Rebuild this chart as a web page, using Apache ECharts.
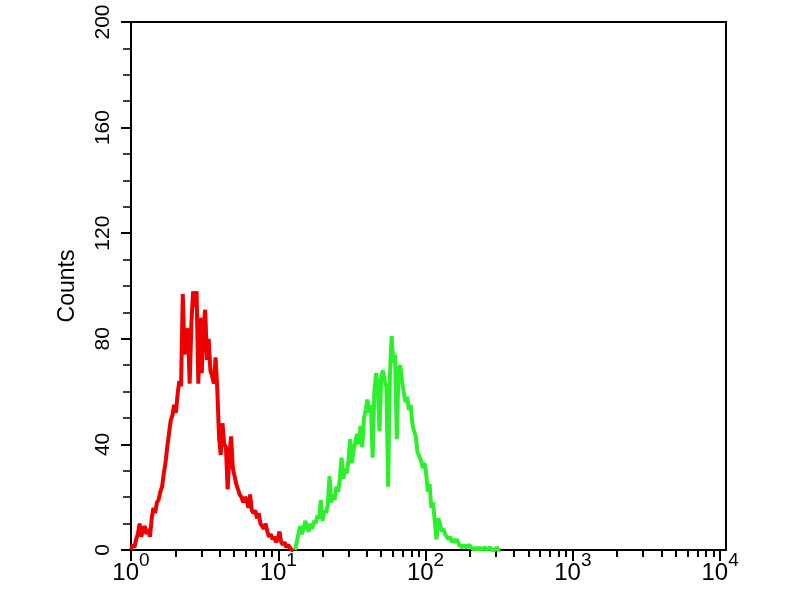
<!DOCTYPE html>
<html>
<head>
<meta charset="utf-8">
<script src="https://cdn.jsdelivr.net/npm/echarts@6/dist/echarts.min.js"></script>
<style>
  html, body { margin: 0; padding: 0; background: #fff; }
  #main { width: 800px; height: 600px; }
</style>
</head>
<body>
<div id="main"></div>
<script>
// 1024 channels over 4 decades, counts every 3rd channel
var channelsPerDecade = 256;
var binStep = 3;

var redFirstChannel = 0;
var redCounts = [0, 2, 1, 4, 6, 10, 5, 8, 9, 6, 8, 5, 12, 16, 14, 18, 19, 22, 24, 29,
    33, 39, 44, 49, 51, 55, 52, 59, 64, 62, 97, 74, 80, 84, 63, 86, 98, 92, 98, 63,
    88, 67, 85, 91, 72, 80, 68, 66, 63, 73, 61, 43, 36, 48, 40, 39, 23, 36, 43, 31,
    28, 25, 23, 21, 20, 18, 20, 19, 16, 21, 15, 14, 15, 12, 14, 10, 9, 8, 10, 7,
    5, 6, 4, 5, 3, 4, 7, 3, 2, 3, 1, 2, 1, 0, 0];

var greenFirstChannel = 285;
var greenCounts = [0, 3, 6, 9, 6, 8, 11, 9, 7, 10, 8, 11, 10, 13, 12, 19, 11, 15, 14, 17,
    28, 18, 21, 19, 24, 22, 27, 35, 27, 31, 29, 34, 42, 33, 38, 41, 44, 40, 47, 39,
    50, 53, 57, 52, 55, 35, 60, 67, 62, 45, 66, 68, 64, 62, 24, 66, 81, 71, 74, 42,
    68, 70, 64, 60, 56, 58, 53, 55, 48, 45, 43, 37, 37, 34, 31, 33, 29, 22, 25, 16,
    18, 11, 4, 12, 10, 7, 8, 6, 6, 4, 5, 3, 4, 3, 4, 2, 2, 1, 2, 1,
    1, 2, 1, 1, 0, 1, 0, 1, 0, 0, 1, 0, 0, 1, 0, 0, 0, 1, 0, 0];

var xDecades = [0, 1, 2, 3, 4];          // 10^0 .. 10^4
var yTicks = [0, 40, 80, 120, 160, 200];

//把计数转成 [log10(x), y]
function histData(first, counts){
    var arr = [];
    counts.forEach(function(c, i){
        arr.push([(first + i * binStep) / channelsPerDecade, c]);
    });
    return arr;
}

// log minor ticks 2..9 in each decade
var minorTicks = [];
for(var d = 0; d < 4; d++){
    for(var m = 2; m <= 9; m++){
        minorTicks.push(d + Math.log10(m));
    }
}

var font = 'Liberation Sans, Arial, sans-serif';
var myChart = echarts.init(document.getElementById('main'));
var option = {
    backgroundColor: '#fff',
    animation: false,
    grid: {
        left: 131, right: 74, top: 22, bottom: 50,
        show: true, borderColor: '#000', borderWidth: 2, backgroundColor: '#fff'
    },
    xAxis: [{
        type: 'value',
        min: 0,
        max: 4.04,
        splitLine: {show: false},
        axisLine: {show: true, onZero: false, lineStyle: {color: '#000', width: 2}},
        axisTick: {show: true, customValues: xDecades, length: 11, lineStyle: {color: '#000', width: 2}},
        axisLabel: {
            customValues: xDecades,
            margin: 9,
            formatter: function(v){
                return '{b|10}{s|' + Math.round(v) + '}';
            },
            rich: {
                b: {fontSize: 24, fontFamily: font, color: '#000', verticalAlign: 'bottom', lineHeight: 26},
                s: {fontSize: 19, fontFamily: font, color: '#000', verticalAlign: 'bottom', lineHeight: 19, padding: [0, 0, 15, 0]}
            }
        }
    }, {
        type: 'value',
        position: 'bottom',
        min: 0,
        max: 4.04,
        splitLine: {show: false},
        axisLine: {show: false},
        axisTick: {show: true, customValues: minorTicks, length: 7, lineStyle: {color: '#000', width: 2}},
        axisLabel: {show: false}
    }],
    yAxis: {
        type: 'value',
        min: 0,
        max: 200,
        interval: 40,
        name: 'Counts',
        nameLocation: 'middle',
        nameRotate: 90,
        nameGap: 52,
        nameTextStyle: {fontSize: 23, fontFamily: font, color: '#000'},
        splitLine: {show: false},
        axisLine: {show: true, lineStyle: {color: '#000', width: 2}},
        axisTick: {show: true, length: 10, lineStyle: {color: '#000', width: 2}},
        minorTick: {show: true, splitNumber: 4, length: 8, lineStyle: {color: '#000', width: 1.5}},
        axisLabel: {
            rotate: 90,
            margin: 17,
            fontSize: 21,
            fontFamily: font,
            color: '#000',
            formatter: function(v){
                return yTicks.indexOf(v) >= 0 ? String(v) : '';
            }
        }
    },
    series: [{
        name: 'red',
        type: 'line',
        xAxisIndex: 0,
        showSymbol: false,
        data: histData(redFirstChannel, redCounts),
        lineStyle: {color: '#ee0000', width: 4}
    }, {
        name: 'green',
        type: 'line',
        xAxisIndex: 0,
        showSymbol: false,
        data: histData(greenFirstChannel, greenCounts),
        lineStyle: {color: '#2cf02c', width: 4}
    }]
};
myChart.setOption(option);
</script>
</body>
</html>
